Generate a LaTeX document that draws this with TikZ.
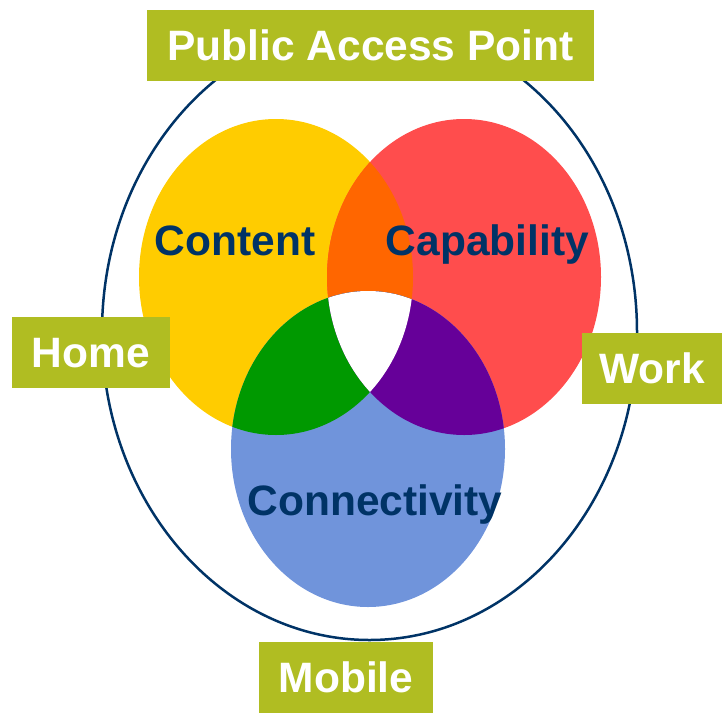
\documentclass[tikz,border=0pt]{standalone}
\usepackage{fontspec}
\setmainfont{Liberation Sans}
\definecolor{navy}{RGB}{0,51,102}
\definecolor{tagolive}{RGB}{176,189,34}
\definecolor{setyellow}{RGB}{255,204,0}
\definecolor{setred}{RGB}{255,77,77}
\definecolor{setblue}{RGB}{112,148,219}
\definecolor{mixorange}{RGB}{255,102,0}
\definecolor{mixgreen}{RGB}{0,153,0}
\definecolor{mixpurple}{RGB}{102,0,153}
\begin{document}
\begin{tikzpicture}[x=1pt,y=-1pt,
  bigfont/.style={font=\fontsize{42.5}{50}\selectfont\bfseries},
  setname/.style={bigfont, text=navy, inner sep=0pt, text height=30.4pt, text depth=0pt},
  tag/.style={bigfont, fill=tagolive, text=white, inner sep=0pt,
              text height=30.4pt, text depth=0pt, minimum height=71pt},
  setshape/.style={x radius=137pt, y radius=158pt}]
\useasboundingbox (0,0) rectangle (722,712);

% outer ring
\draw[navy, line width=2.5pt] (369.5,332) ellipse [x radius=267.5pt, y radius=308pt];

% the three sets
\def\yellowset{(276,277) ellipse [setshape]}
\def\redset{(464,277) ellipse [setshape]}
\def\blueset{(368,449) ellipse [setshape]}
\fill[setyellow] \yellowset;
\fill[setred] \redset;
\fill[setblue] \blueset;

% pairwise overlaps
\begin{scope}
  \clip \yellowset;
  \fill[mixorange] \redset;
  \fill[mixgreen] \blueset;
\end{scope}
\begin{scope}
  \clip \redset;
  \fill[mixpurple] \blueset;
\end{scope}
% common core
\begin{scope}
  \clip \yellowset;
  \clip \redset;
  \fill[white] \blueset;
\end{scope}

% set names
\node[setname] (content) at (235,240) {Content};
\node[setname] (capability) at (487.5,240) {Capability};
\node[setname] (connectivity) at (375,500) {Connectivity};

% location tags
\node[tag, minimum width=447pt] (public) at (370.5,45) {Public Access Point};
\node[tag, minimum width=158pt] (home) at (91,352.5) {Home};
\node[tag, minimum width=140pt] (work) at (652,368.5) {Work};
\node[tag, minimum width=174pt] (mobile) at (346,677) {Mobile};
\end{tikzpicture}
\end{document}
